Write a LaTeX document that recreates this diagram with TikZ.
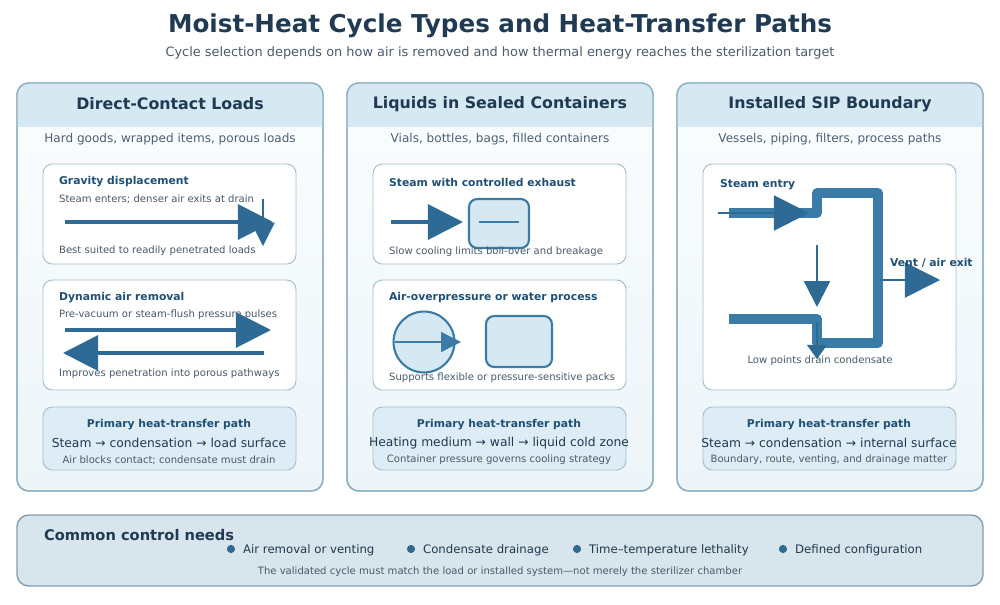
\documentclass[tikz,border=0pt]{standalone}
\usepackage{fontspec}
\setmainfont{DejaVu Sans}
\usetikzlibrary{arrows.meta, calc}
\definecolor{navy}{HTML}{1F3A52}
\definecolor{ink}{HTML}{1E4F74}
\definecolor{greyt}{HTML}{4A5A6A}
\definecolor{flow}{HTML}{2E6A94}
\definecolor{pipe}{HTML}{3A7CA5}
\definecolor{band}{HTML}{D6E9F2}
\definecolor{edge}{HTML}{8FB0C4}
\definecolor{cardedge}{HTML}{A3BFCE}
\definecolor{needs}{HTML}{D8E5EC}
\tikzset{
  panel/.style={draw=edge, line width=1.2pt, rounded corners=10pt, top color=white!50!band!20, bottom color=band!45},
  card/.style={draw=cardedge, line width=0.8pt, rounded corners=8pt, fill=white},
  pathcard/.style={draw=cardedge, line width=0.8pt, rounded corners=8pt, fill=band!80},
  head/.style={font=\bfseries\fontsize{13.5}{15}\selectfont, text=navy},
  sub/.style={font=\fontsize{10.3}{12}\selectfont, text=navy!80},
  cardtitle/.style={font=\bfseries\fontsize{9.2}{11}\selectfont, text=ink, anchor=west},
  note/.style={font=\fontsize{8.6}{10}\selectfont, text=greyt, anchor=west},
  bigarrow/.style={draw=flow, line width=2.6pt, -{Triangle[length=30pt,width=30pt]}},
  thinarrow/.style={draw=flow, line width=1pt, -{Triangle[length=22pt,width=22pt]}},
  vessel/.style={draw=pipe, line width=1.8pt, rounded corners=7pt, fill=band},
  conduit/.style={draw=pipe, line width=8pt, line join=round},
  dot/.style={circle, fill=flow, inner sep=0pt, minimum size=7pt}
}
\begin{document}
\begin{tikzpicture}[x=0.03cm, y=-0.03cm]
\useasboundingbox (0,0) rectangle (1000,604);
% title
\node[font=\bfseries\fontsize{21}{24}\selectfont, text=navy] (title) at (500,26) {Moist-Heat Cycle Types and Heat-Transfer Paths};
\node[font=\fontsize{11}{13}\selectfont, text=greyt] (subtitle) at (500,53) {Cycle selection depends on how air is removed and how thermal energy reaches the sterilization target};

% panels
\foreach \x/\t/\s in {17/Direct-Contact Loads/{Hard goods, wrapped items, porous loads},
                      347/Liquids in Sealed Containers/{Vials, bottles, bags, filled containers},
                      677/Installed SIP Boundary/{Vessels, piping, filters, process paths}}{
  \draw[panel] (\x,83) rectangle ++(306,408);
  \begin{scope}
    \clip[rounded corners=10pt] (\x,83) rectangle ++(306,408);
    \fill[band] (\x,83) rectangle ++(306,44);
  \end{scope}
  \draw[draw=edge, line width=1.2pt, rounded corners=10pt] (\x,83) rectangle ++(306,408);
  \node[head] at (\x+153,104) {\t};
  \node[sub] at (\x+153,139) {\s};
}

% cards
\foreach \x in {43,373}{
  \draw[card] (\x,164) rectangle ++(253,100);
  \draw[card] (\x,280) rectangle ++(253,110);
  \draw[pathcard] (\x,407) rectangle ++(253,63);
}
\draw[card] (703,164) rectangle ++(253,226);
\draw[pathcard] (703,407) rectangle ++(253,63);

% panel 1
\node[cardtitle] (grav) at (55,182) {Gravity displacement};
\node[note] (gravn) at (55,199) {Steam enters; denser air exits at drain};
\coordinate (g1) at (65,222); \coordinate (g2) at (273,222);
\draw[bigarrow] (g1) -- (g2);
\coordinate (d1) at (263,199); \coordinate (d2) at (263,246);
\draw[draw=flow, line width=1pt, -{Triangle[length=20pt,width=20pt]}] (d1) -- (d2);
\node[note] (gravb) at (55,251) {Best suited to readily penetrated loads};

\node[cardtitle] (dyn) at (55,298) {Dynamic air removal};
\node[note] (dynn) at (55,315) {Pre-vacuum or steam-flush pressure pulses};
\coordinate (p1) at (65,330); \coordinate (p2) at (271,330);
\coordinate (q1) at (264,353); \coordinate (q2) at (63,353);
\draw[bigarrow] (p1) -- (p2);
\draw[bigarrow] (q1) -- (q2);
\node[note] (dynb) at (55,374) {Improves penetration into porous pathways};

% panel 2
\node[cardtitle] (exh) at (385,182) {Steam with controlled exhaust};
\draw[vessel] (469,199) rectangle (529,248);
\draw[draw=pipe, line width=1.4pt] (479,222) -- (519,222);
\coordinate (e1) at (391,222); \coordinate (e2) at (463,222);
\draw[bigarrow] (e1) -- (e2);
\node[note] (exhb) at (385,252) {Slow cooling limits boil-over and breakage};

\node[cardtitle] (aop) at (385,298) {Air-overpressure or water process};
\node[circle, draw=pipe, line width=1.8pt, fill=band, minimum size=52pt, inner sep=0pt] (bag) at (424,342) {};
\coordinate (c1) at (395,342); \coordinate (c2) at (461,342);
\draw[draw=pipe, line width=1.2pt, -{Triangle[length=17pt,width=17pt]}] (c1) -- (c2);
\draw[vessel] (486,316) rectangle (552,367);
\node[note] (aopb) at (385,378) {Supports flexible or pressure-sensitive packs};

% panel 3
\node[cardtitle] (entry) at (716,185) {Steam entry};
\draw[conduit] (729,213) -- (817,213) -- (817,193) -- (878,193) -- (878,343) -- (817,343) -- (817,319) -- (729,319);
\coordinate (s1) at (718,213); \coordinate (s2) at (809,213);
\draw[bigarrow, line width=1.5pt] (s1) -- (s2);
\coordinate (f1) at (817,245); \coordinate (f2) at (817,307);
\draw[thinarrow, line width=2pt] (f1) -- (f2);
\coordinate (r1) at (817,322); \coordinate (r2) at (817,359);
\draw[draw=flow, line width=1pt, -{Triangle[length=12pt,width=17pt]}] (r1) -- (r2);
\coordinate (v1) at (880,280); \coordinate (v2) at (940,280);
\draw[bigarrow, line width=1.5pt] (v1) -- (v2);
\node[cardtitle] (vent) at (886,263) {Vent / air exit};
\node[note, anchor=center] (low) at (820,361) {Low points drain condensate};

% heat-transfer paths
\foreach \x/\a/\b in {169/{Steam → condensation → load surface}/{Air blocks contact; condensate must drain},
                      499/{Heating medium → wall → liquid cold zone}/{Container pressure governs cooling strategy},
                      829/{Steam → condensation → internal surface}/{Boundary, route, venting, and drainage matter}}{
  \node[cardtitle, anchor=center] at (\x,425) {Primary heat-transfer path};
  \node[font=\fontsize{10.5}{12}\selectfont, text=navy] at (\x,443) {\a};
  \node[note, anchor=center] at (\x,460) {\b};
}

% common needs
\draw[draw=edge!90!black, line width=1.2pt, rounded corners=10pt, fill=needs] (17,515) rectangle (983,586);
\node[font=\bfseries\fontsize{12.5}{14}\selectfont, text=navy, anchor=west] (common) at (40,535) {Common control needs};
\foreach \x/\t in {231/Air removal or venting, 411/Condensate drainage, 577/Time–temperature lethality, 783/Defined configuration}{
  \node[dot] at (\x,549) {};
  \node[font=\fontsize{10}{12}\selectfont, text=navy, anchor=west] at (\x+8,550) {\t};
}
\node[note, anchor=center] (valid) at (500,572) {The validated cycle must match the load or installed system—not merely the sterilizer chamber};
\end{tikzpicture}
\end{document}
